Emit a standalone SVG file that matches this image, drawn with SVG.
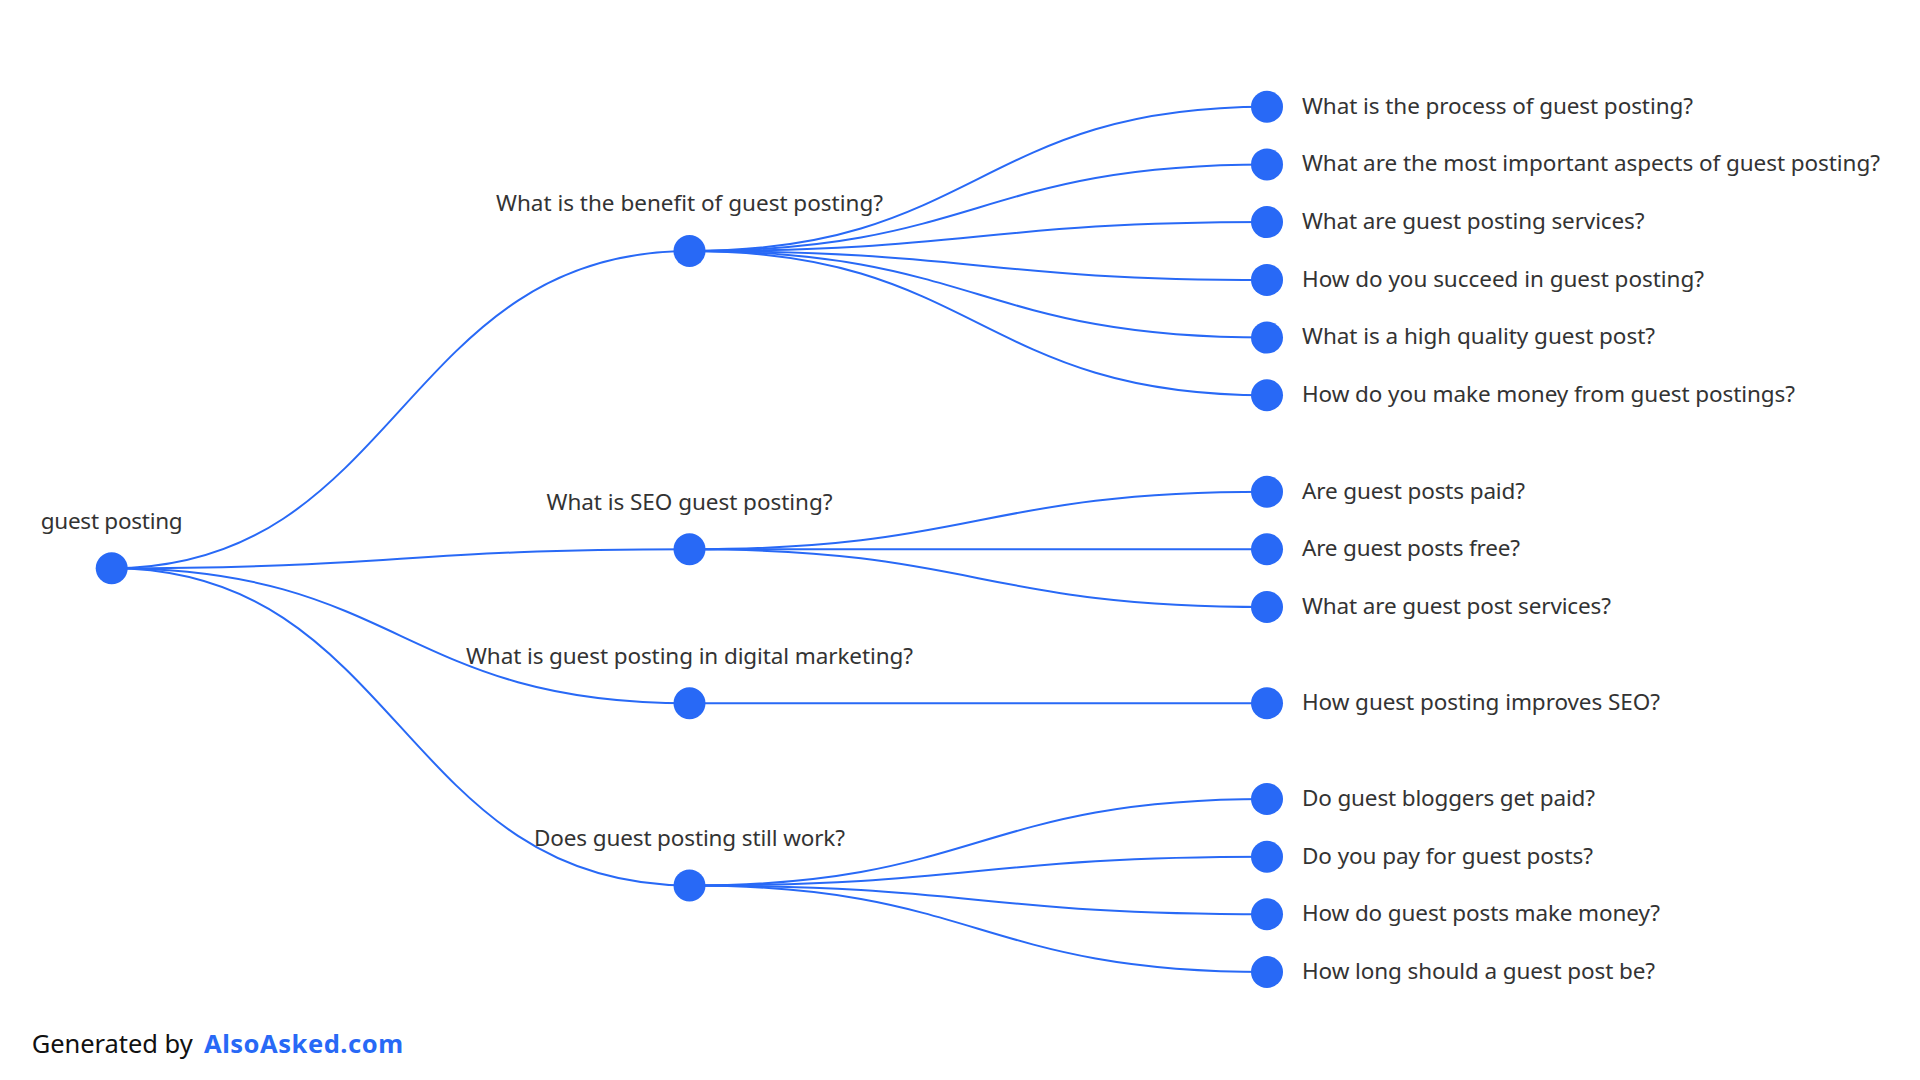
<svg xmlns="http://www.w3.org/2000/svg" width="1920" height="1080" viewBox="0 0 1920 1080">
<style>
.link{fill:none;stroke:#2869F6;stroke-width:2}
.node{fill:#2869F6}
.lbl{font-family:"Noto Sans","Open Sans","Liberation Sans",sans-serif;font-size:22.5px;fill:#333333}
.mid{text-anchor:middle}
.foot{font-family:"Noto Sans","Open Sans","Liberation Sans",sans-serif;font-size:25.5px;fill:#111111}
.brand{font-weight:bold;fill:#2869F6}
</style>
<rect width="1920" height="1080" fill="#ffffff"/>
<g id="connectors">
<path class="link" d="M111.7,568.3 C400.6,568.3 400.6,251 689.5,251"/>
<path class="link" d="M111.7,568.3 C400.6,568.3 400.6,549.3 689.5,549.3"/>
<path class="link" d="M111.7,568.3 C400.6,568.3 400.6,703.3 689.5,703.3"/>
<path class="link" d="M111.7,568.3 C400.6,568.3 400.6,885.5 689.5,885.5"/>
<path class="link" d="M689.5,251 C978.2,251 978.2,106.7 1267,106.7"/>
<path class="link" d="M689.5,251 C978.2,251 978.2,164.4 1267,164.4"/>
<path class="link" d="M689.5,251 C978.2,251 978.2,222.1 1267,222.1"/>
<path class="link" d="M689.5,251 C978.2,251 978.2,279.9 1267,279.9"/>
<path class="link" d="M689.5,251 C978.2,251 978.2,337.6 1267,337.6"/>
<path class="link" d="M689.5,251 C978.2,251 978.2,395.3 1267,395.3"/>
<path class="link" d="M689.5,549.3 C978.2,549.3 978.2,491.7 1267,491.7"/>
<path class="link" d="M689.5,549.3 C978.2,549.3 978.2,549.3 1267,549.3"/>
<path class="link" d="M689.5,549.3 C978.2,549.3 978.2,607 1267,607"/>
<path class="link" d="M689.5,703.3 C978.2,703.3 978.2,703.3 1267,703.3"/>
<path class="link" d="M689.5,885.5 C978.2,885.5 978.2,799 1267,799"/>
<path class="link" d="M689.5,885.5 C978.2,885.5 978.2,856.7 1267,856.7"/>
<path class="link" d="M689.5,885.5 C978.2,885.5 978.2,914.3 1267,914.3"/>
<path class="link" d="M689.5,885.5 C978.2,885.5 978.2,972 1267,972"/>
</g>
<g id="root"><circle class="node" cx="111.7" cy="568.3" r="16"/><text class="lbl mid" x="111.7" y="529" textLength="142">guest posting</text></g>
<g id="q1"><circle class="node" cx="689.5" cy="251" r="16"/><text class="lbl mid" x="689.5" y="210.5" textLength="387">What is the benefit of guest posting?</text></g>
<g id="q2"><circle class="node" cx="689.5" cy="549.3" r="16"/><text class="lbl mid" x="689.5" y="510" textLength="286">What is SEO guest posting?</text></g>
<g id="q3"><circle class="node" cx="689.5" cy="703.3" r="16"/><text class="lbl mid" x="689.5" y="663.5" textLength="447">What is guest posting in digital marketing?</text></g>
<g id="q4"><circle class="node" cx="689.5" cy="885.5" r="16"/><text class="lbl mid" x="689.5" y="846" textLength="311">Does guest posting still work?</text></g>
<g id="q1a"><circle class="node" cx="1267" cy="106.7" r="16"/><text class="lbl" x="1302" y="113.5" textLength="391">What is the process of guest posting?</text></g>
<g id="q1b"><circle class="node" cx="1267" cy="164.4" r="16"/><text class="lbl" x="1302" y="171.2" textLength="578">What are the most important aspects of guest posting?</text></g>
<g id="q1c"><circle class="node" cx="1267" cy="222.1" r="16"/><text class="lbl" x="1302" y="228.9" textLength="342.5">What are guest posting services?</text></g>
<g id="q1d"><circle class="node" cx="1267" cy="279.9" r="16"/><text class="lbl" x="1302" y="286.7" textLength="402">How do you succeed in guest posting?</text></g>
<g id="q1e"><circle class="node" cx="1267" cy="337.6" r="16"/><text class="lbl" x="1302" y="344.4" textLength="353">What is a high quality guest post?</text></g>
<g id="q1f"><circle class="node" cx="1267" cy="395.3" r="16"/><text class="lbl" x="1302" y="402.1" textLength="493">How do you make money from guest postings?</text></g>
<g id="q2a"><circle class="node" cx="1267" cy="491.7" r="16"/><text class="lbl" x="1302" y="498.5" textLength="223">Are guest posts paid?</text></g>
<g id="q2b"><circle class="node" cx="1267" cy="549.3" r="16"/><text class="lbl" x="1302" y="556.1" textLength="218">Are guest posts free?</text></g>
<g id="q2c"><circle class="node" cx="1267" cy="607" r="16"/><text class="lbl" x="1302" y="613.8" textLength="309">What are guest post services?</text></g>
<g id="q3a"><circle class="node" cx="1267" cy="703.3" r="16"/><text class="lbl" x="1302" y="710.1" textLength="358">How guest posting improves SEO?</text></g>
<g id="q4a"><circle class="node" cx="1267" cy="799" r="16"/><text class="lbl" x="1302" y="805.8" textLength="293">Do guest bloggers get paid?</text></g>
<g id="q4b"><circle class="node" cx="1267" cy="856.7" r="16"/><text class="lbl" x="1302" y="863.5" textLength="291">Do you pay for guest posts?</text></g>
<g id="q4c"><circle class="node" cx="1267" cy="914.3" r="16"/><text class="lbl" x="1302" y="921.1" textLength="358">How do guest posts make money?</text></g>
<g id="q4d"><circle class="node" cx="1267" cy="972" r="16"/><text class="lbl" x="1302" y="978.8" textLength="353">How long should a guest post be?</text></g>
<g id="footer">
<text class="foot" x="31.7" y="1053.3" textLength="161">Generated by</text>
<text class="foot brand" x="204" y="1053.3" textLength="199">AlsoAsked.com</text>
</g>
</svg>
